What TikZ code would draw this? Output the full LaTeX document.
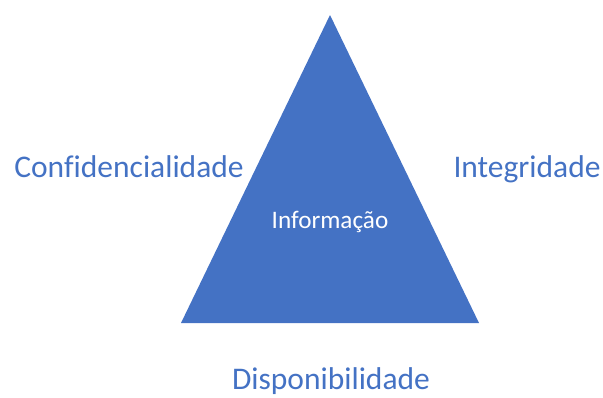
\documentclass[tikz,border=0pt]{standalone}
\usepackage{fontspec}
\setmainfont[Ligatures=NoCommon]{Carlito}
\usetikzlibrary{positioning}
\definecolor{office}{RGB}{68,114,196}
\tikzset{
  every picture/.style={x=1pt, y=-1pt},
  pillar/.style={font=\fontsize{31.5}{34}\selectfont, text=office, inner sep=0pt, anchor=base},
  core/.style={font=\fontsize{25.2}{27}\selectfont, text=white, inner sep=0pt, anchor=base},
}

\begin{document}
\begin{tikzpicture}
  \useasboundingbox (0,0) rectangle (603,397);
  \coordinate (top) at (330,15);
  \coordinate (bl) at (181,323);
  \coordinate (br) at (479,323);
  \fill[office] (top) -- (br) -- (bl) -- cycle;
  \node[core] (info) at (330,228) {Informação};
  \node[pillar] (conf) at (129,177) {Confidencialidade};
  \node[pillar] (integ) at (527,177) {Integridade};
  \node[pillar] (disp) at (331,389) {Disponibilidade};
\end{tikzpicture}
\end{document}
